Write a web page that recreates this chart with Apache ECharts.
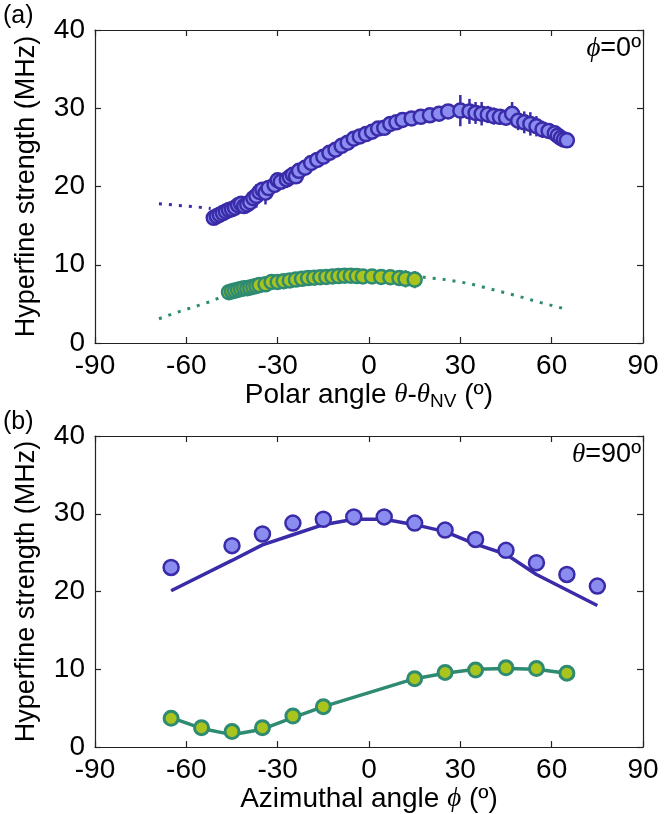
<!DOCTYPE html>
<html><head><meta charset="utf-8">
<script src="https://cdn.jsdelivr.net/npm/echarts@6/dist/echarts.min.js"></script>
<style>html,body{margin:0;padding:0;background:#fff}#c{width:672px;height:814px}</style>
</head><body><div id="c"></div>
<script>
// ---------- Panel (a): polar angle sweep, phi = 0 ----------
const polarX_upper = [-51,-50,-49,-48,-47,-46,-45,-44,-43,-42,-41,-40,-39,-38,-37,-36,-35,-34,-33,-31,-30,-29,-27,-26,-25,-24,-23,-21,-19,-17,-15,-13,-11,-9,-7,-5,-3,-1,1,3,5,7,9,11,14,17,20,23,26,30,33,35,37,39,41,43,45,47,49,51,53,55,57,59,61,62,63,64,65];
const polarY_upper = [16.0,16.2,16.4,16.6,16.8,17.0,17.1,17.3,17.6,17.8,17.5,17.7,18.0,18.5,18.8,19.3,19.6,19.2,19.8,20.2,20.8,20.6,20.9,21.2,21.5,21.3,22.0,22.4,23.0,23.4,23.8,24.3,24.7,25.2,25.6,26.1,26.4,26.7,27.0,27.4,27.5,28.0,28.2,28.5,28.7,28.9,29.1,29.3,29.6,29.7,29.6,29.4,29.3,29.2,29.0,28.9,28.8,29.3,28.4,28.2,28.0,27.7,27.3,27.1,26.8,26.5,26.2,26.0,25.9];
const polarE_upper = [0.3,0.3,0.3,0.3,0.3,0.3,0.4,0.3,0.4,0.4,0.4,0.4,0.5,0.7,1.5,0.5,0.7,1.5,0.7,0.5,0.7,0.5,1.1,0.5,0.5,0.4,0.4,0.4,0.4,0.4,0.4,0.4,0.4,0.4,0.4,0.4,0.4,0.4,0.4,0.4,0.4,0.4,0.4,0.4,0.4,0.4,0.5,0.6,0.7,2.0,1.6,1.4,1.5,1.1,1.1,1.0,1.0,1.5,1.2,1.4,1.5,1.3,1.1,1.0,0.9,0.8,0.7,0.7,0.7];
const polarX_lower = [-46,-45,-44,-43,-42,-41,-40,-39,-38,-37,-36,-34,-32,-30,-28,-26,-24,-22,-20,-18,-16,-14,-12,-10,-8,-6,-4,-2,1,4,7,10,12,15];
const polarY_lower = [6.5,6.6,6.7,6.8,6.9,7.0,7.0,7.1,7.2,7.3,7.4,7.5,7.8,7.8,7.9,8.0,8.1,8.2,8.3,8.35,8.4,8.45,8.5,8.55,8.6,8.6,8.55,8.5,8.5,8.45,8.4,8.3,8.2,8.1];
const polarE_lower = [0.3,0.3,0.3,0.3,0.3,0.3,0.3,0.3,0.3,0.3,0.3,0.5,0.9,0.5,0.5,0.5,0.5,0.5,0.5,0.5,0.5,0.5,0.5,0.5,0.6,0.6,0.6,0.6,0.7,0.7,0.8,0.8,1.1,1.1];
const polarTheoryX_upper = [-69,-66,-63,-60,-57,-54,-52];
const polarTheoryY_upper = [17.8,17.7,17.6,17.5,17.4,17.3,17.2];
const polarTheoryX_lower = [-69,-64,-60,-56,-52,-48,-46,-30,-10,5,18,25,33,40,48,56,64];
const polarTheoryY_lower = [3.1,3.8,4.3,4.8,5.3,6.0,6.4,7.8,8.5,8.6,8.4,8.1,7.6,6.9,6.1,5.2,4.4];

// ---------- Panel (b): azimuthal angle sweep, theta = 90 ----------
const aziX_upper = [-65,-45,-35,-25,-15,-5,5,15,25,35,45,55,65,75];
const aziY_upper = [23.1,25.9,27.4,28.8,29.3,29.6,29.6,28.8,27.9,26.7,25.3,23.7,22.2,20.7];
const aziFitX_upper = [-65,-45,-35,-25,-15,-5,5,15,25,35,45,55,65,75];
const aziFitY_upper = [20.1,24.0,26.0,27.3,28.6,29.3,29.3,28.6,27.7,26.1,24.8,22.2,20.2,18.2];
const aziX_lower = [-65,-55,-45,-35,-25,-15,15,25,35,45,55,65];
const aziY_lower = [3.7,2.5,2.0,2.5,4.0,5.2,8.8,9.6,9.9,10.2,10.1,9.5];
const aziFitX_lower = [-65,-55,-45,-35,-25,-15,15,25,35,45,55,65];
const aziFitY_lower = [3.8,2.4,1.6,2.3,3.8,5.2,8.8,9.5,10.0,10.1,10.0,9.5];

const xTicks = [-90,-60,-30,0,30,60,90];
const yTicks = [0,10,20,30,40];

const PURPLE = '#3a2ca8', PURPLE_FILL = '#8b8cf0';
const GREEN = '#2e8b72', GREEN_FILL = '#a9c41c';
const SANS = '"Liberation Sans", Arial, Helvetica, sans-serif';
const SERIF = '"Liberation Serif", "DejaVu Serif", serif';

const zip = (xs, ys) => xs.map((x, i) => [x, ys[i]]);

function errSeries(xs, ys, es, color, ai) {
  return {
    type: 'custom', xAxisIndex: ai * 2, yAxisIndex: ai * 2, silent: true, z: 2,
    encode: { x: 0, y: [1, 2] },
    data: xs.map((x, i) => [x, ys[i] - es[i], ys[i] + es[i]]),
    renderItem: (params, api) => {
      const a = api.coord([api.value(0), api.value(1)]);
      const b = api.coord([api.value(0), api.value(2)]);
      return { type: 'line', shape: { x1: a[0], y1: a[1], x2: b[0], y2: b[1] }, style: { stroke: color, lineWidth: 2.5 } };
    }
  };
}
function scatter(xs, ys, fill, edge, size, bw, ai, z) {
  return { type: 'scatter', xAxisIndex: ai * 2, yAxisIndex: ai * 2, data: zip(xs, ys), symbol: 'circle', symbolSize: size, silent: true, z: z,
    itemStyle: { color: fill, borderColor: edge, borderWidth: bw, opacity: 1 } };
}
function line(xs, ys, color, width, type, ai) {
  return { type: 'line', xAxisIndex: ai * 2, yAxisIndex: ai * 2, data: zip(xs, ys), showSymbol: false, symbol: 'none', silent: true, z: 1,
    lineStyle: { color: color, width: width, type: type, cap: 'butt' } };
}

const gridTop = [30, 436];
const grids = gridTop.map(t => ({ left: 95, top: t, width: 548, height: 313 }));
const axisLineStyle = { show: true, onZero: false, lineStyle: { color: '#222', width: 1.2 } };
const tickStyle = { show: true, inside: true, length: 6, lineStyle: { color: '#222', width: 1.2 } };

const xNames = [
  '{t|Polar angle }{i|θ}{t|-}{i|θ}{s|NV}{t| (º)}',
  '{t|Azimuthal angle }{i|ϕ}{t| (º)}'
];
const nameRich = {
  t: { fontFamily: SANS, fontSize: 28, color: '#000' },
  i: { fontFamily: SERIF, fontStyle: 'italic', fontSize: 27, color: '#000' },
  s: { fontFamily: SANS, fontSize: 19, color: '#000', verticalAlign: 'bottom', padding: [14, 0, 0, 0] }
};

const xAxes = [], yAxes = [];
[0, 1].forEach(g => {
  xAxes.push({ type: 'value', gridIndex: g, min: -90, max: 90, interval: 30, position: 'bottom',
    axisLine: axisLineStyle, axisTick: tickStyle, splitLine: { show: false },
    axisLabel: { show: true, fontFamily: SANS, fontSize: 28, color: '#000', margin: 9, formatter: v => xTicks.includes(v) ? String(v) : '' },
    name: xNames[g], nameLocation: 'middle', nameGap: 27, nameTextStyle: { rich: nameRich } });
  xAxes.push({ type: 'value', gridIndex: g, min: -90, max: 90, interval: 30, position: 'top',
    axisLine: axisLineStyle, axisTick: tickStyle, axisLabel: { show: false }, splitLine: { show: false } });
  yAxes.push({ type: 'value', gridIndex: g, min: 0, max: 40, interval: 10, position: 'left',
    axisLine: axisLineStyle, axisTick: tickStyle, splitLine: { show: false },
    axisLabel: { show: true, fontFamily: SANS, fontSize: 28, color: '#000', margin: 10, formatter: v => yTicks.includes(v) ? String(v) : '' },
    name: 'Hyperfine strength (MHz)', nameLocation: 'middle', nameGap: 55,
    nameTextStyle: { fontFamily: SANS, fontSize: 27, color: '#000', overflow: 'none', width: 400 } });
  yAxes.push({ type: 'value', gridIndex: g, min: 0, max: 40, interval: 10, position: 'right',
    axisLine: axisLineStyle, axisTick: tickStyle, axisLabel: { show: false }, splitLine: { show: false } });
});

const series = [
  // panel a
  line(polarTheoryX_upper, polarTheoryY_upper, PURPLE, 3, [3, 7], 0),
  line(polarTheoryX_lower, polarTheoryY_lower, GREEN, 3, [3, 7], 0),
  errSeries(polarX_upper, polarY_upper, polarE_upper, PURPLE, 0),
  errSeries(polarX_lower, polarY_lower, polarE_lower, GREEN, 0),
  scatter(polarX_upper, polarY_upper, PURPLE_FILL, PURPLE, 14, 2.5, 0, 3),
  scatter(polarX_lower, polarY_lower, GREEN_FILL, GREEN, 14, 2.5, 0, 3),
  // panel b
  line(aziFitX_upper, aziFitY_upper, PURPLE, 3.5, 'solid', 1),
  line(aziFitX_lower, aziFitY_lower, GREEN, 3.5, 'solid', 1),
  scatter(aziX_upper, aziY_upper, PURPLE_FILL, PURPLE, 15, 2.5, 1, 3),
  scatter(aziX_lower, aziY_lower, GREEN_FILL, GREEN, 14, 3, 1, 3)
];

const labRich = { i: { fontFamily: SERIF, fontStyle: 'italic', fontSize: 27, fill: '#000' }, t: { fontFamily: SANS, fontSize: 27, fill: '#000' } };
const graphic = [
  { type: 'text', left: 3, top: 4, style: { text: '(a)', font: '25px ' + SANS, fill: '#000' } },
  { type: 'text', left: 3, top: 410, style: { text: '(b)', font: '25px ' + SANS, fill: '#000' } },
  { type: 'text', right: 31, top: 35, style: { text: '{i|ϕ}{t|=0º}', rich: labRich } },
  { type: 'text', right: 31, top: 441, style: { text: '{i|θ}{t|=90º}', rich: labRich } }
];

const chart = echarts.init(document.getElementById('c'), null, { renderer: 'canvas' });
chart.setOption({ animation: false, backgroundColor: '#fff', grid: grids, xAxis: xAxes, yAxis: yAxes, series: series, graphic: graphic });
</script>
</body></html>
